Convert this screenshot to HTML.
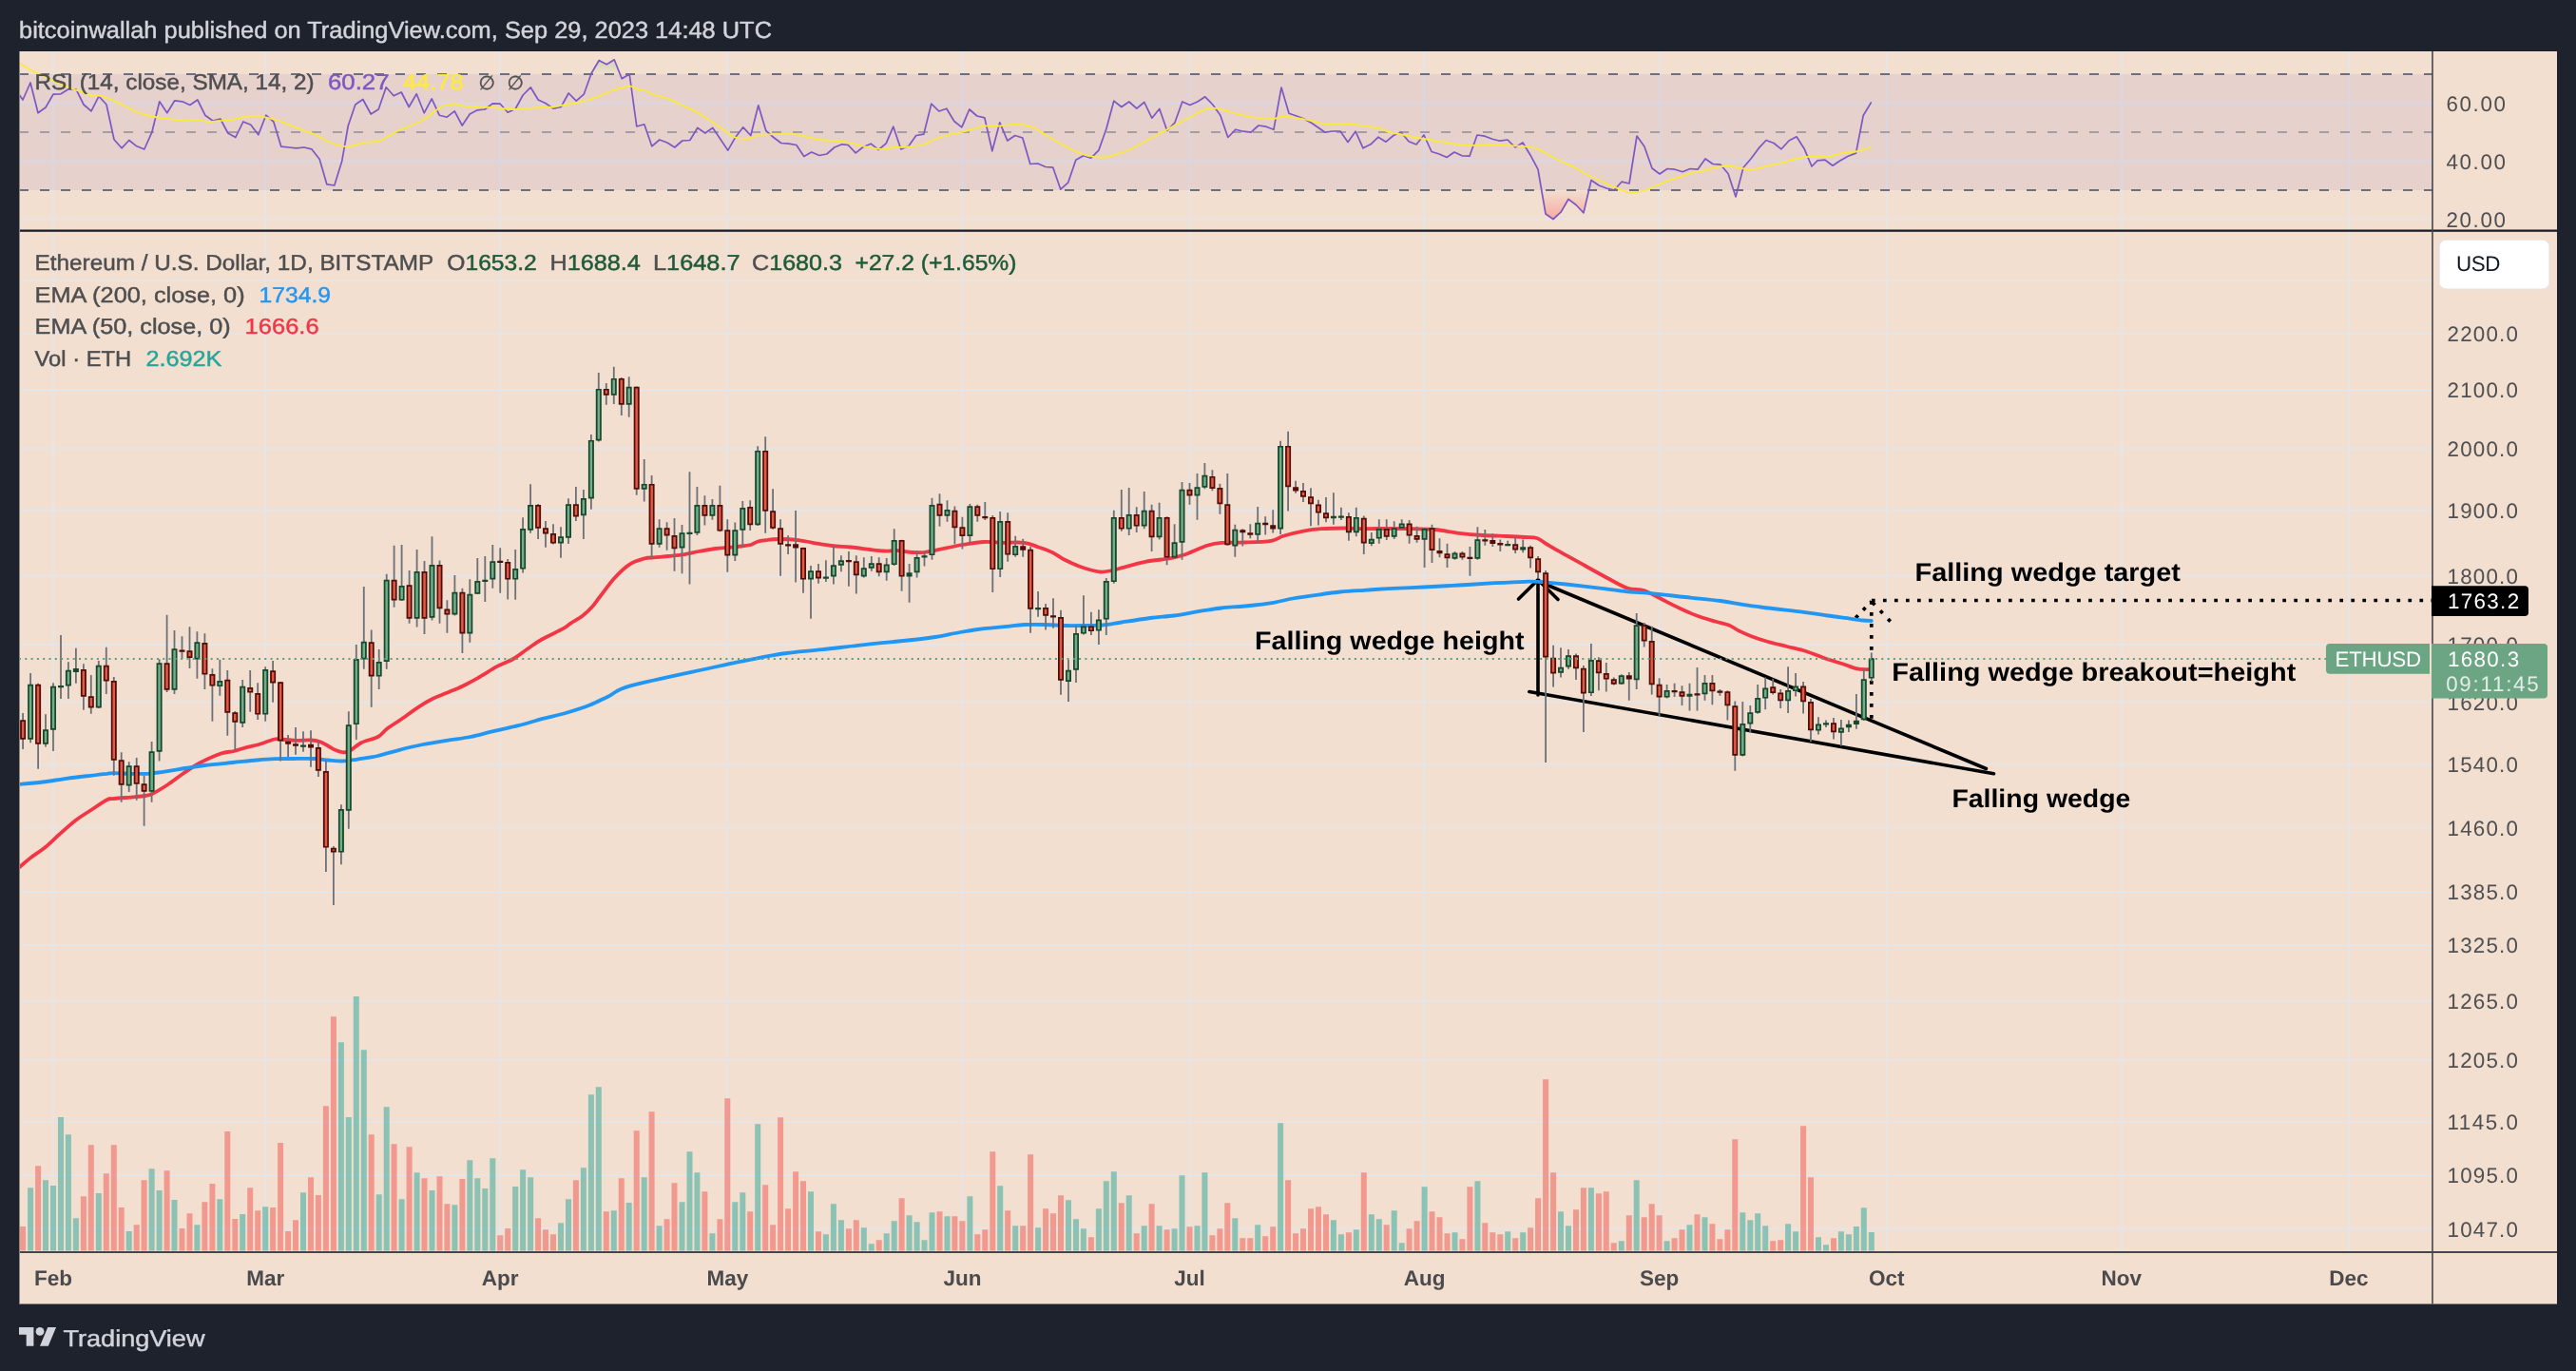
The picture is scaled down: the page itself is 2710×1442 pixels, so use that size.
<!DOCTYPE html><html><head><meta charset="utf-8"><title>ETHUSD chart</title><style>html,body{margin:0;padding:0;background:#1e222d}svg{display:block;will-change:transform}text{text-rendering:geometricPrecision}</style></head><body><svg width="2710" height="1442" viewBox="0 0 2710 1442" font-family="'Liberation Sans',sans-serif"><defs><clipPath id="cpR"><rect x="20" y="54" width="2539" height="188"/></clipPath><clipPath id="cpOB"><rect x="20" y="54" width="2539" height="24"/></clipPath><clipPath id="cpOS"><rect x="20" y="200" width="2539" height="42"/></clipPath><clipPath id="cpM"><rect x="20" y="244" width="2539" height="1072"/></clipPath><linearGradient id="gOS" x1="0" y1="200" x2="0" y2="234" gradientUnits="userSpaceOnUse"><stop offset="0" stop-color="#ff5252" stop-opacity="0"/><stop offset="1" stop-color="#ff5252" stop-opacity="0.42"/></linearGradient><linearGradient id="gOB" x1="0" y1="78" x2="0" y2="54" gradientUnits="userSpaceOnUse"><stop offset="0" stop-color="#4caf50" stop-opacity="0"/><stop offset="1" stop-color="#4caf50" stop-opacity="0.35"/></linearGradient></defs><rect x="0" y="0" width="2710" height="1442" fill="#1e222d"/><rect x="20" y="54" width="2670" height="1317.5" fill="#f2dfcf"/><path d="M56,54V1317M279.2,54V1317M526.2,54V1317M765.3,54V1317M1012.4,54V1317M1251.5,54V1317M1498.6,54V1317M1745.6,54V1317M1984.7,54V1317M2231.8,54V1317M2470.9,54V1317M20,108.8H2559M20,169.5H2559M20,230.5H2559M20,295H2559M20,351H2559M20,410H2559M20,472H2559M20,536.8H2559M20,605.6H2559M20,678H2559M20,738.8H2559M20,803.8H2559M20,870.8H2559M20,938H2559M20,994H2559M20,1053H2559M20,1115H2559M20,1180H2559M20,1236H2559M20,1292.6H2559" stroke="#e5e5e8" stroke-width="2" fill="none"/><rect x="20" y="78" width="2539" height="122" fill="#7e57c2" fill-opacity="0.1"/><path d="M20,78H2559M20,200H2559" stroke="#6b6f7e" stroke-width="2" stroke-dasharray="10 12" fill="none"/><path d="M20,139H2559" stroke="#787b86" stroke-opacity="0.6" stroke-width="2" stroke-dasharray="10 12" fill="none"/><polygon points="20,99.3 24,105 32,87 40,118.8 48,113 56,99.2 64,98.8 72,93.8 80,93.8 88,110 96,116.8 104,101.2 112,110 120,146.8 128,155.8 135.8,147.5 143.8,153.8 151.8,157 159.8,139.2 167.8,106.8 175.8,118.8 183.8,105.8 191.8,106.8 199.8,110.5 207.8,105 215.8,121.2 223.8,127 231.8,125 239.8,140 247.8,144.5 255.8,128 263.8,131.2 271.8,141.8 279.8,121.2 287.8,128 295.8,154.2 303.8,155 311.8,155.8 319.8,155 327.8,156.8 336.2,167.5 343.8,193.8 351.8,195 359.8,169.2 366.2,132.5 373.8,110 381.8,104.5 390.2,120 398.2,115 406.2,91.8 414.2,100.8 422.2,97 430.2,112.5 438.2,98.8 446.2,118.8 454.2,103.8 462.2,121.2 470.2,123.2 478.2,116.8 486.2,132 494.2,120 502.2,115.8 510.2,115 518.2,108.8 526.2,109.2 534.2,118.2 542.2,114.5 550.2,100 558.2,91.8 566.2,105 574.2,108.8 582.2,114.2 590.2,112.5 598.2,98 606.2,106.2 614.2,99.2 622.2,77 630.2,63.5 638.2,67.8 646.2,62.8 654.2,82.8 662.2,78 669.8,133 677.8,130.8 685.8,153.8 693.8,147 701.8,150 709.8,155 717.8,148 725.8,147.5 733.8,134.5 741.8,140 749.8,134.5 757.8,146.2 765.8,158.2 773.8,144.2 781.8,133.8 789.8,142.5 797.8,110.8 805.8,137.5 813.8,144.5 821.8,150.5 829.8,151.2 837.8,152.5 845.8,164.5 853.8,160 861.8,163.5 869.8,162 877.8,155 885.8,151.8 892.2,152.5 900.2,160.8 908.2,154.5 916.2,151.2 924.2,157.5 932.2,150.8 939.8,133.2 947.8,157 955.8,153.8 963.8,142.5 971.8,141.2 979.8,109.2 987.8,117 995.8,114.2 1003.8,127.5 1011.8,133.8 1019.8,115 1027.8,122 1035.8,123.8 1043.8,158.8 1051.8,128.8 1059.8,148 1067.8,142.5 1075.8,145 1083.8,172.5 1091.8,172 1099.8,175.5 1107.8,176.2 1115.8,199.2 1123.8,191.8 1131.8,168.2 1139.8,163.8 1147.8,166.2 1155.8,158.2 1163.8,135.8 1171.8,106.2 1179.8,112.5 1187.8,107 1195.8,114.2 1203.8,107.5 1211.8,124.2 1219.8,114.5 1227.8,137.5 1235.8,129.2 1243.8,107 1251.8,110.5 1259.8,107 1267.8,101.8 1275.8,110 1283.8,121.2 1291.8,144.5 1300,136.2 1308,138.2 1316,139.2 1324,132 1332,133.2 1340,136.2 1348,92 1356,119.2 1364,122 1372,125 1380,129.5 1388,135 1394,139.2 1402,138 1410,138 1418,149.5 1426,138.2 1434,155.8 1442,151.8 1450,144.2 1458,149.2 1466,142.5 1474,139.2 1482,148.8 1490,152 1498,142 1506,159.5 1514,162 1522,165.5 1530,160 1538,163.8 1546,164.2 1554,142 1562,143.2 1570,146.2 1578,148.2 1586,147 1594,155 1602,150 1610,163.2 1618,178.2 1626,225 1634,230.5 1642,223.2 1650,209.5 1658,215.5 1666,223.8 1674,189.5 1682,195 1690,198 1698,200 1706,191.2 1714,193 1722,143 1730,154.2 1738,177 1746,183 1754,177.5 1762,178.2 1770,180.8 1778,177.5 1786,178.2 1794,167 1802,172.5 1810,173.2 1818,182.5 1826,207 1834,176.2 1842,167 1850,156.2 1858,147.5 1866,150.5 1874,156.8 1882,148 1890,143.8 1898,156.2 1906,175 1912,168.8 1920,168.2 1928,174.2 1935.4,169.2 1944.2,164.3 1952.5,161.1 1960.2,121.5 1968.7,107.4 1968.7,78 20,78" fill="url(#gOB)" clip-path="url(#cpOB)"/><polygon points="20,99.3 24,105 32,87 40,118.8 48,113 56,99.2 64,98.8 72,93.8 80,93.8 88,110 96,116.8 104,101.2 112,110 120,146.8 128,155.8 135.8,147.5 143.8,153.8 151.8,157 159.8,139.2 167.8,106.8 175.8,118.8 183.8,105.8 191.8,106.8 199.8,110.5 207.8,105 215.8,121.2 223.8,127 231.8,125 239.8,140 247.8,144.5 255.8,128 263.8,131.2 271.8,141.8 279.8,121.2 287.8,128 295.8,154.2 303.8,155 311.8,155.8 319.8,155 327.8,156.8 336.2,167.5 343.8,193.8 351.8,195 359.8,169.2 366.2,132.5 373.8,110 381.8,104.5 390.2,120 398.2,115 406.2,91.8 414.2,100.8 422.2,97 430.2,112.5 438.2,98.8 446.2,118.8 454.2,103.8 462.2,121.2 470.2,123.2 478.2,116.8 486.2,132 494.2,120 502.2,115.8 510.2,115 518.2,108.8 526.2,109.2 534.2,118.2 542.2,114.5 550.2,100 558.2,91.8 566.2,105 574.2,108.8 582.2,114.2 590.2,112.5 598.2,98 606.2,106.2 614.2,99.2 622.2,77 630.2,63.5 638.2,67.8 646.2,62.8 654.2,82.8 662.2,78 669.8,133 677.8,130.8 685.8,153.8 693.8,147 701.8,150 709.8,155 717.8,148 725.8,147.5 733.8,134.5 741.8,140 749.8,134.5 757.8,146.2 765.8,158.2 773.8,144.2 781.8,133.8 789.8,142.5 797.8,110.8 805.8,137.5 813.8,144.5 821.8,150.5 829.8,151.2 837.8,152.5 845.8,164.5 853.8,160 861.8,163.5 869.8,162 877.8,155 885.8,151.8 892.2,152.5 900.2,160.8 908.2,154.5 916.2,151.2 924.2,157.5 932.2,150.8 939.8,133.2 947.8,157 955.8,153.8 963.8,142.5 971.8,141.2 979.8,109.2 987.8,117 995.8,114.2 1003.8,127.5 1011.8,133.8 1019.8,115 1027.8,122 1035.8,123.8 1043.8,158.8 1051.8,128.8 1059.8,148 1067.8,142.5 1075.8,145 1083.8,172.5 1091.8,172 1099.8,175.5 1107.8,176.2 1115.8,199.2 1123.8,191.8 1131.8,168.2 1139.8,163.8 1147.8,166.2 1155.8,158.2 1163.8,135.8 1171.8,106.2 1179.8,112.5 1187.8,107 1195.8,114.2 1203.8,107.5 1211.8,124.2 1219.8,114.5 1227.8,137.5 1235.8,129.2 1243.8,107 1251.8,110.5 1259.8,107 1267.8,101.8 1275.8,110 1283.8,121.2 1291.8,144.5 1300,136.2 1308,138.2 1316,139.2 1324,132 1332,133.2 1340,136.2 1348,92 1356,119.2 1364,122 1372,125 1380,129.5 1388,135 1394,139.2 1402,138 1410,138 1418,149.5 1426,138.2 1434,155.8 1442,151.8 1450,144.2 1458,149.2 1466,142.5 1474,139.2 1482,148.8 1490,152 1498,142 1506,159.5 1514,162 1522,165.5 1530,160 1538,163.8 1546,164.2 1554,142 1562,143.2 1570,146.2 1578,148.2 1586,147 1594,155 1602,150 1610,163.2 1618,178.2 1626,225 1634,230.5 1642,223.2 1650,209.5 1658,215.5 1666,223.8 1674,189.5 1682,195 1690,198 1698,200 1706,191.2 1714,193 1722,143 1730,154.2 1738,177 1746,183 1754,177.5 1762,178.2 1770,180.8 1778,177.5 1786,178.2 1794,167 1802,172.5 1810,173.2 1818,182.5 1826,207 1834,176.2 1842,167 1850,156.2 1858,147.5 1866,150.5 1874,156.8 1882,148 1890,143.8 1898,156.2 1906,175 1912,168.8 1920,168.2 1928,174.2 1935.4,169.2 1944.2,164.3 1952.5,161.1 1960.2,121.5 1968.7,107.4 1968.7,200 20,200" fill="url(#gOS)" clip-path="url(#cpOS)"/><polyline points="20,99.3 24,105 32,87 40,118.8 48,113 56,99.2 64,98.8 72,93.8 80,93.8 88,110 96,116.8 104,101.2 112,110 120,146.8 128,155.8 135.8,147.5 143.8,153.8 151.8,157 159.8,139.2 167.8,106.8 175.8,118.8 183.8,105.8 191.8,106.8 199.8,110.5 207.8,105 215.8,121.2 223.8,127 231.8,125 239.8,140 247.8,144.5 255.8,128 263.8,131.2 271.8,141.8 279.8,121.2 287.8,128 295.8,154.2 303.8,155 311.8,155.8 319.8,155 327.8,156.8 336.2,167.5 343.8,193.8 351.8,195 359.8,169.2 366.2,132.5 373.8,110 381.8,104.5 390.2,120 398.2,115 406.2,91.8 414.2,100.8 422.2,97 430.2,112.5 438.2,98.8 446.2,118.8 454.2,103.8 462.2,121.2 470.2,123.2 478.2,116.8 486.2,132 494.2,120 502.2,115.8 510.2,115 518.2,108.8 526.2,109.2 534.2,118.2 542.2,114.5 550.2,100 558.2,91.8 566.2,105 574.2,108.8 582.2,114.2 590.2,112.5 598.2,98 606.2,106.2 614.2,99.2 622.2,77 630.2,63.5 638.2,67.8 646.2,62.8 654.2,82.8 662.2,78 669.8,133 677.8,130.8 685.8,153.8 693.8,147 701.8,150 709.8,155 717.8,148 725.8,147.5 733.8,134.5 741.8,140 749.8,134.5 757.8,146.2 765.8,158.2 773.8,144.2 781.8,133.8 789.8,142.5 797.8,110.8 805.8,137.5 813.8,144.5 821.8,150.5 829.8,151.2 837.8,152.5 845.8,164.5 853.8,160 861.8,163.5 869.8,162 877.8,155 885.8,151.8 892.2,152.5 900.2,160.8 908.2,154.5 916.2,151.2 924.2,157.5 932.2,150.8 939.8,133.2 947.8,157 955.8,153.8 963.8,142.5 971.8,141.2 979.8,109.2 987.8,117 995.8,114.2 1003.8,127.5 1011.8,133.8 1019.8,115 1027.8,122 1035.8,123.8 1043.8,158.8 1051.8,128.8 1059.8,148 1067.8,142.5 1075.8,145 1083.8,172.5 1091.8,172 1099.8,175.5 1107.8,176.2 1115.8,199.2 1123.8,191.8 1131.8,168.2 1139.8,163.8 1147.8,166.2 1155.8,158.2 1163.8,135.8 1171.8,106.2 1179.8,112.5 1187.8,107 1195.8,114.2 1203.8,107.5 1211.8,124.2 1219.8,114.5 1227.8,137.5 1235.8,129.2 1243.8,107 1251.8,110.5 1259.8,107 1267.8,101.8 1275.8,110 1283.8,121.2 1291.8,144.5 1300,136.2 1308,138.2 1316,139.2 1324,132 1332,133.2 1340,136.2 1348,92 1356,119.2 1364,122 1372,125 1380,129.5 1388,135 1394,139.2 1402,138 1410,138 1418,149.5 1426,138.2 1434,155.8 1442,151.8 1450,144.2 1458,149.2 1466,142.5 1474,139.2 1482,148.8 1490,152 1498,142 1506,159.5 1514,162 1522,165.5 1530,160 1538,163.8 1546,164.2 1554,142 1562,143.2 1570,146.2 1578,148.2 1586,147 1594,155 1602,150 1610,163.2 1618,178.2 1626,225 1634,230.5 1642,223.2 1650,209.5 1658,215.5 1666,223.8 1674,189.5 1682,195 1690,198 1698,200 1706,191.2 1714,193 1722,143 1730,154.2 1738,177 1746,183 1754,177.5 1762,178.2 1770,180.8 1778,177.5 1786,178.2 1794,167 1802,172.5 1810,173.2 1818,182.5 1826,207 1834,176.2 1842,167 1850,156.2 1858,147.5 1866,150.5 1874,156.8 1882,148 1890,143.8 1898,156.2 1906,175 1912,168.8 1920,168.2 1928,174.2 1935.4,169.2 1944.2,164.3 1952.5,161.1 1960.2,121.5 1968.7,107.4" fill="none" stroke="#7e57c2" stroke-width="1.7" stroke-linejoin="round" clip-path="url(#cpR)"/><path d="M20,65.8C22.1,67.1 28.3,71.5 32.5,73.8C36.7,76 40.8,77.5 45,79.5C49.2,81.5 53.3,83.8 57.5,85.8C61.7,87.7 65.8,89.6 70,91.2C74.2,92.9 78.3,94 82.5,95.5C86.7,97 90.8,99 95,100C99.2,101 103.3,100.2 107.5,101.2C111.7,102.3 115.8,104.5 120,106.2C124.2,108 128.3,110 132.5,112C136.7,114 140.8,116.6 145,118.2C149.2,119.9 153.3,121 157.5,122C161.7,123 165.8,123.6 170,124.2C174.2,124.9 178.3,125.3 182.5,125.8C186.7,126.2 190.8,126.8 195,126.8C199.2,126.8 203.3,125.5 207.5,125.8C211.7,126 215.8,128.1 220,128.2C224.2,128.4 228.3,127.2 232.5,126.8C236.7,126.3 240.8,126.4 245,125.8C249.2,125.1 253.3,123.7 257.5,123C261.7,122.3 265.8,121.5 270,121.8C274.2,122 278.3,123.3 282.5,124.2C286.7,125.2 290.8,126.1 295,127.5C299.2,128.9 303.3,130.8 307.5,132.5C311.7,134.2 315.8,135.9 320,137.5C324.2,139.1 328.3,140.1 332.5,142C336.7,143.9 341.2,147 345,148.8C348.8,150.5 351.9,151.6 355,152.5C358.1,153.4 360.8,154.1 363.8,154.2C366.7,154.4 369.4,154 372.5,153.2C375.6,152.5 379.2,150.6 382.5,150C385.8,149.4 389.6,149.8 392.5,149.5C395.4,149.2 397.1,149.2 400,148C402.9,146.8 406.7,144.3 410,142.5C413.3,140.7 416.2,138.8 420,137C423.8,135.2 428.3,133.8 432.5,132C436.7,130.2 440.8,128.8 445,126.2C449.2,123.8 453.8,119.5 457.5,117C461.2,114.5 464.2,112.5 467.5,111.2C470.8,110 473.8,109.4 477.5,109.5C481.2,109.6 485,111.2 490,111.8C495,112.2 502.5,112.2 507.5,112.5C512.5,112.8 515.8,112.9 520,113.2C524.2,113.6 528.3,114.2 532.5,114.5C536.7,114.8 540.8,115.1 545,115C549.2,114.9 553.3,114.1 557.5,113.8C561.7,113.4 565.8,113.2 570,113C574.2,112.8 578.3,113 582.5,112.5C586.7,112 590.8,110.8 595,110C599.2,109.2 603.3,108.8 607.5,108C611.7,107.2 615.8,106.3 620,105C624.2,103.7 628.3,101.7 632.5,100C636.7,98.3 641.2,96.3 645,95C648.8,93.7 651.8,92.7 655,92C658.2,91.3 661.3,90.5 664,90.8C666.7,91 668.6,93 671,93.8C673.4,94.5 676,94.2 678.5,95C681,95.8 682.2,97.4 686,98.8C689.8,100.1 696,101.4 701,103.2C706,105.1 711,107.8 716,110C721,112.2 726,114 731,116.8C736,119.5 741,123 746,126.2C751,129.5 756.4,133.2 761,136.2C765.6,139.3 768.7,143 773.5,144.5C778.3,146 785.6,145.9 789.8,145.5C793.9,145.1 794.1,142.7 798.5,142C802.9,141.3 809.8,141.4 816,141.2C822.2,141.1 830.2,140.7 836,141.2C841.8,141.8 846,143.5 851,144.5C856,145.5 861,146.9 866,147.5C871,148.1 876,147.8 881,148.2C886,148.8 891,149.5 896,150.5C901,151.5 906,153.5 911,154.5C916,155.5 921,156.7 926,156.8C931,156.8 936,155.4 941,155C946,154.6 951,155 956,154.5C961,154 966.8,153.2 971,152C975.2,150.8 976.8,149.1 981,147.5C985.2,145.9 991,143.9 996,142.5C1001,141.1 1006,140.5 1011,139.2C1016,138 1021.8,136.1 1026,135C1030.2,133.9 1031.8,132.9 1036,132.5C1040.2,132.1 1046,132.8 1051,132.5C1056,132.2 1061.8,131 1066,130.8C1070.2,130.5 1072.7,130.8 1076,131.2C1079.3,131.8 1081.8,131.9 1086,133.8C1090.2,135.6 1096,139.6 1101,142.5C1106,145.4 1111,148.5 1116,151.2C1121,154 1126,156.6 1131,158.8C1136,160.9 1140.6,163.1 1146,164.2C1151.4,165.4 1158.9,165.8 1163.5,165.5C1168.1,165.2 1169.3,163.8 1173.5,162.5C1177.7,161.2 1183.1,159.9 1188.5,157.5C1193.9,155.1 1200.6,150.9 1206,148C1211.4,145.1 1216,142.7 1221,140C1226,137.3 1231,134.5 1236,131.8C1241,129 1246,126.4 1251,123.8C1256,121.1 1261.4,117.4 1266,115.8C1270.6,114.1 1274.3,113.6 1278.5,113.8C1282.7,113.9 1287.4,115.8 1291,116.8C1294.6,117.7 1297.8,118.6 1300,119.2C1302.2,119.9 1301.7,119.8 1304.5,120.5C1307.3,121.2 1312.4,122.5 1317,123.2C1321.6,124 1327.8,125 1332,125.2C1336.2,125.5 1339.1,125 1342,124.5C1344.9,124 1345.8,122.5 1349.5,122.5C1353.2,122.5 1359.5,123.5 1364.5,124.2C1369.5,125 1374.5,126 1379.5,127C1384.5,128 1389.5,130 1394.5,130.5C1399.5,131 1404.5,130 1409.5,130C1414.5,130 1419.5,130.2 1424.5,130.8C1429.5,131.3 1435.3,132.7 1439.5,133.2C1443.7,133.8 1445.8,133.2 1449.5,134.2C1453.2,135.2 1457.4,138 1462,139.2C1466.6,140.5 1472,141 1477,142C1482,143 1486.6,144 1492,145C1497.4,146 1504.1,147.1 1509.5,148C1514.9,148.9 1519.1,149.7 1524.5,150.5C1529.9,151.3 1536.6,152.6 1542,153C1547.4,153.4 1552,152.8 1557,152.8C1562,152.7 1567,152.4 1572,152.5C1577,152.6 1582,153 1587,153.2C1592,153.5 1597,153.2 1602,153.8C1607,154.2 1612.4,154.7 1617,156.2C1621.6,157.8 1625.3,160.8 1629.5,163C1633.7,165.2 1637.4,167.3 1642,169.5C1646.6,171.7 1652.8,174.1 1657,176.2C1661.2,178.4 1662.8,180.3 1667,182.5C1671.2,184.7 1677,187 1682,189.2C1687,191.5 1692.8,194.5 1697,196.2C1701.2,198 1704.1,198.9 1707,200C1709.9,201.1 1710.8,202.7 1714.5,202.8C1718.2,202.8 1724.9,201.7 1729.5,200.5C1734.1,199.3 1737.8,197.2 1742,195.5C1746.2,193.8 1750.3,191.5 1754.5,190C1758.7,188.5 1762.8,187.6 1767,186.2C1771.2,184.9 1775.3,182.9 1779.5,181.8C1783.7,180.6 1787.8,180.4 1792,179.5C1796.2,178.6 1800.3,177.1 1804.5,176.2C1808.7,175.4 1813.2,174.6 1817,174.5C1820.8,174.4 1823.7,175.1 1827,175.8C1830.3,176.4 1834.1,177.8 1837,178.2C1839.9,178.7 1840.8,178.9 1844.5,178.2C1848.2,177.6 1854.5,175.7 1859.5,174.5C1864.5,173.3 1869.5,172.5 1874.5,171.2C1879.5,170 1885.3,168 1889.5,167C1893.7,166 1894.9,165.4 1899.5,165C1904.1,164.6 1912.4,164.7 1917,164.5C1921.6,164.3 1923.5,164.3 1927,163.8C1930.5,163.2 1933.6,161.8 1937.8,161.1C1942,160.4 1948.5,160.1 1952.2,159.5C1955.9,158.9 1957.5,158.4 1960.2,157.6C1963,156.8 1967.3,155.2 1968.7,154.7" fill="none" stroke="#fbe93c" stroke-width="1.8" clip-path="url(#cpR)"/><path d="M29.1,1249.2h6V1315.5h-6zM45,1241.2h6V1315.5h-6zM53,1247h6V1315.5h-6zM61,1175h6V1315.5h-6zM68.9,1193.2h6V1315.5h-6zM76.9,1281.2h6V1315.5h-6zM100.8,1255h6V1315.5h-6zM132.7,1295h6V1315.5h-6zM156.6,1229.2h6V1315.5h-6zM164.6,1252h6V1315.5h-6zM180.5,1262h6V1315.5h-6zM204.4,1288.2h6V1315.5h-6zM228.3,1261.2h6V1315.5h-6zM252.2,1277h6V1315.5h-6zM276.2,1269.2h6V1315.5h-6zM316,1254.2h6V1315.5h-6zM355.9,1096.2h6V1315.5h-6zM363.8,1175h6V1315.5h-6zM371.8,1048h6V1315.5h-6zM379.8,1104.2h6V1315.5h-6zM395.7,1256.2h6V1315.5h-6zM403.7,1164.2h6V1315.5h-6zM419.6,1261.2h6V1315.5h-6zM435.6,1233.2h6V1315.5h-6zM451.5,1252h6V1315.5h-6zM475.4,1267.2h6V1315.5h-6zM491.3,1220.2h6V1315.5h-6zM499.3,1239.2h6V1315.5h-6zM507.3,1250h6V1315.5h-6zM515.3,1218.2h6V1315.5h-6zM539.2,1248h6V1315.5h-6zM547.1,1230.2h6V1315.5h-6zM555.1,1238.2h6V1315.5h-6zM587,1286.2h6V1315.5h-6zM595,1261.2h6V1315.5h-6zM610.9,1228.2h6V1315.5h-6zM618.9,1151.2h6V1315.5h-6zM626.8,1143.2h6V1315.5h-6zM642.8,1273.2h6V1315.5h-6zM658.7,1265h6V1315.5h-6zM674.7,1238.2h6V1315.5h-6zM690.6,1289.2h6V1315.5h-6zM714.5,1264.2h6V1315.5h-6zM722.5,1211.2h6V1315.5h-6zM730.4,1233.2h6V1315.5h-6zM746.4,1297.2h6V1315.5h-6zM770.3,1264.2h6V1315.5h-6zM778.3,1254.2h6V1315.5h-6zM794.2,1182.2h6V1315.5h-6zM850,1253.2h6V1315.5h-6zM865.9,1298.2h6V1315.5h-6zM873.9,1266.2h6V1315.5h-6zM881.9,1283.2h6V1315.5h-6zM905.8,1291.2h6V1315.5h-6zM913.8,1308.2h6V1315.5h-6zM929.7,1297.2h6V1315.5h-6zM937.7,1284.2h6V1315.5h-6zM953.6,1278.2h6V1315.5h-6zM961.6,1285.2h6V1315.5h-6zM969.5,1304.2h6V1315.5h-6zM977.5,1275.2h6V1315.5h-6zM993.5,1279.2h6V1315.5h-6zM1017.4,1258.2h6V1315.5h-6zM1049.2,1247.2h6V1315.5h-6zM1065.2,1289.2h6V1315.5h-6zM1089.1,1291.2h6V1315.5h-6zM1121,1262.2h6V1315.5h-6zM1129,1282.2h6V1315.5h-6zM1136.9,1292.2h6V1315.5h-6zM1152.9,1271.2h6V1315.5h-6zM1160.8,1242.2h6V1315.5h-6zM1168.8,1232.2h6V1315.5h-6zM1184.7,1257.2h6V1315.5h-6zM1200.7,1289.2h6V1315.5h-6zM1216.6,1289.2h6V1315.5h-6zM1232.6,1292.2h6V1315.5h-6zM1240.5,1236.2h6V1315.5h-6zM1256.5,1289.2h6V1315.5h-6zM1264.4,1233.2h6V1315.5h-6zM1296.3,1281.2h6V1315.5h-6zM1320.2,1288.2h6V1315.5h-6zM1344.1,1181.2h6V1315.5h-6zM1399.9,1283.2h6V1315.5h-6zM1407.9,1298.2h6V1315.5h-6zM1423.8,1293.2h6V1315.5h-6zM1439.8,1277.2h6V1315.5h-6zM1447.8,1282.2h6V1315.5h-6zM1463.7,1273.2h6V1315.5h-6zM1471.7,1307.2h6V1315.5h-6zM1495.6,1248.2h6V1315.5h-6zM1527.5,1296.2h6V1315.5h-6zM1551.4,1242.2h6V1315.5h-6zM1583.2,1295.2h6V1315.5h-6zM1599.2,1296.2h6V1315.5h-6zM1639,1274.2h6V1315.5h-6zM1647,1289.2h6V1315.5h-6zM1670.9,1249.2h6V1315.5h-6zM1702.8,1305.2h6V1315.5h-6zM1718.7,1241.2h6V1315.5h-6zM1750.6,1305.2h6V1315.5h-6zM1774.5,1288.2h6V1315.5h-6zM1790.5,1280.2h6V1315.5h-6zM1830.3,1275.2h6V1315.5h-6zM1838.3,1283.2h6V1315.5h-6zM1846.2,1276.2h6V1315.5h-6zM1854.2,1289.2h6V1315.5h-6zM1878.1,1287.2h6V1315.5h-6zM1886.1,1295.2h6V1315.5h-6zM1910,1301.2h6V1315.5h-6zM1918,1309.2h6V1315.5h-6zM1933.9,1295.2h6V1315.5h-6zM1941.9,1298.2h6V1315.5h-6zM1949.9,1290h6V1315.5h-6zM1957.8,1270.2h6V1315.5h-6zM1965.8,1296h6V1315.5h-6z" fill="#26a69a" fill-opacity="0.5"/><path d="M21.1,1290h6V1315.5h-6zM37.1,1226.2h6V1315.5h-6zM84.9,1258.2h6V1315.5h-6zM92.8,1204.2h6V1315.5h-6zM108.8,1234.2h6V1315.5h-6zM116.8,1204.2h6V1315.5h-6zM124.7,1270h6V1315.5h-6zM140.7,1288.2h6V1315.5h-6zM148.6,1241.2h6V1315.5h-6zM172.6,1231.2h6V1315.5h-6zM188.5,1292h6V1315.5h-6zM196.5,1276.2h6V1315.5h-6zM212.4,1264.2h6V1315.5h-6zM220.4,1245h6V1315.5h-6zM236.3,1190h6V1315.5h-6zM244.3,1282h6V1315.5h-6zM260.2,1249.2h6V1315.5h-6zM268.2,1273.2h6V1315.5h-6zM284.1,1270h6V1315.5h-6zM292.1,1202h6V1315.5h-6zM300.1,1295h6V1315.5h-6zM308,1283.2h6V1315.5h-6zM324,1238.2h6V1315.5h-6zM331.9,1257h6V1315.5h-6zM339.9,1163.2h6V1315.5h-6zM347.9,1069.2h6V1315.5h-6zM387.7,1193.2h6V1315.5h-6zM411.6,1203.2h6V1315.5h-6zM427.6,1206.2h6V1315.5h-6zM443.5,1239.2h6V1315.5h-6zM459.5,1237.2h6V1315.5h-6zM467.4,1266.2h6V1315.5h-6zM483.4,1240h6V1315.5h-6zM523.2,1299.2h6V1315.5h-6zM531.2,1292h6V1315.5h-6zM563.1,1281.2h6V1315.5h-6zM571,1293.2h6V1315.5h-6zM579,1298.2h6V1315.5h-6zM602.9,1241.2h6V1315.5h-6zM634.8,1274.2h6V1315.5h-6zM650.8,1239.2h6V1315.5h-6zM666.7,1189.2h6V1315.5h-6zM682.6,1169.2h6V1315.5h-6zM698.6,1282.2h6V1315.5h-6zM706.5,1244.2h6V1315.5h-6zM738.4,1253.2h6V1315.5h-6zM754.4,1282.2h6V1315.5h-6zM762.3,1155.2h6V1315.5h-6zM786.2,1274.2h6V1315.5h-6zM802.2,1246.2h6V1315.5h-6zM810.1,1288.2h6V1315.5h-6zM818.1,1175.2h6V1315.5h-6zM826.1,1271.2h6V1315.5h-6zM834.1,1232.2h6V1315.5h-6zM842,1242.2h6V1315.5h-6zM858,1295.2h6V1315.5h-6zM889.9,1292.2h6V1315.5h-6zM897.8,1283.2h6V1315.5h-6zM921.7,1304.2h6V1315.5h-6zM945.6,1260.2h6V1315.5h-6zM985.5,1274.2h6V1315.5h-6zM1001.4,1279.2h6V1315.5h-6zM1009.4,1284.2h6V1315.5h-6zM1025.3,1298.2h6V1315.5h-6zM1033.3,1293.2h6V1315.5h-6zM1041.3,1211.2h6V1315.5h-6zM1057.2,1273.2h6V1315.5h-6zM1073.2,1289.2h6V1315.5h-6zM1081.1,1214.2h6V1315.5h-6zM1097.1,1271.2h6V1315.5h-6zM1105,1276.2h6V1315.5h-6zM1113,1257.2h6V1315.5h-6zM1144.9,1301.2h6V1315.5h-6zM1176.8,1265.2h6V1315.5h-6zM1192.7,1297.2h6V1315.5h-6zM1208.6,1266.2h6V1315.5h-6zM1224.6,1293.2h6V1315.5h-6zM1248.5,1290.2h6V1315.5h-6zM1272.4,1299.2h6V1315.5h-6zM1280.4,1292.2h6V1315.5h-6zM1288.3,1265.2h6V1315.5h-6zM1304.3,1302.2h6V1315.5h-6zM1312.3,1302.2h6V1315.5h-6zM1328.2,1300.2h6V1315.5h-6zM1336.2,1290.2h6V1315.5h-6zM1352.1,1241.2h6V1315.5h-6zM1360.1,1297.2h6V1315.5h-6zM1368,1292.2h6V1315.5h-6zM1376,1271.2h6V1315.5h-6zM1384,1269.2h6V1315.5h-6zM1392,1277.2h6V1315.5h-6zM1415.9,1296.2h6V1315.5h-6zM1431.8,1233.2h6V1315.5h-6zM1455.7,1288.2h6V1315.5h-6zM1479.6,1292.2h6V1315.5h-6zM1487.6,1284.2h6V1315.5h-6zM1503.5,1274.2h6V1315.5h-6zM1511.5,1280.2h6V1315.5h-6zM1519.5,1297.2h6V1315.5h-6zM1535.4,1303.2h6V1315.5h-6zM1543.4,1248.2h6V1315.5h-6zM1559.3,1286.2h6V1315.5h-6zM1567.3,1296.2h6V1315.5h-6zM1575.3,1298.2h6V1315.5h-6zM1591.2,1302.2h6V1315.5h-6zM1607.1,1291.2h6V1315.5h-6zM1615.1,1260.2h6V1315.5h-6zM1623.1,1135.2h6V1315.5h-6zM1631.1,1233.2h6V1315.5h-6zM1655,1272.2h6V1315.5h-6zM1662.9,1249.2h6V1315.5h-6zM1678.9,1255.2h6V1315.5h-6zM1686.8,1253.2h6V1315.5h-6zM1694.8,1307.2h6V1315.5h-6zM1710.8,1278.2h6V1315.5h-6zM1726.7,1280.2h6V1315.5h-6zM1734.7,1266.2h6V1315.5h-6zM1742.6,1278.2h6V1315.5h-6zM1758.6,1302.2h6V1315.5h-6zM1766.5,1293.2h6V1315.5h-6zM1782.5,1277.2h6V1315.5h-6zM1798.4,1287.2h6V1315.5h-6zM1806.4,1303.2h6V1315.5h-6zM1814.4,1293.2h6V1315.5h-6zM1822.3,1198.2h6V1315.5h-6zM1862.2,1305.2h6V1315.5h-6zM1870.2,1304.2h6V1315.5h-6zM1894.1,1184.2h6V1315.5h-6zM1902,1238.2h6V1315.5h-6zM1926,1302.2h6V1315.5h-6z" fill="#ef5350" fill-opacity="0.5"/><g clip-path="url(#cpM)"><g stroke="#000" stroke-width="3.6" stroke-linecap="round" fill="none"><path d="M1618,610.5V731"/><path d="M1597.5,630L1618,609.8L1639,630.5"/><path d="M1621,612.5L2089.4,808.5"/><path d="M1608.8,727.5L2097.5,813.8"/></g><g stroke="#000" stroke-width="3.7" fill="none"><path d="M1968.95,631.5H2558" stroke-dasharray="3.7 8.31"/><path d="M1968.8,631.95V756" stroke-dasharray="3.7 8.3"/><path d="M1968.8,632.5L1952.1,649.9" stroke-dasharray="3.7 7.6" stroke-dashoffset="-9.05"/><path d="M1968.8,632.5L1988.8,653.7" stroke-dasharray="3.7 8.2" stroke-dashoffset="-13.45"/></g><path d="M20,912.5C22.1,910.8 27.9,905.5 32.5,902C37.1,898.5 42.5,895.3 47.5,891.2C52.5,887.2 57.1,882.3 62.5,877.5C67.9,872.7 74.6,866.7 80,862.5C85.4,858.3 89.6,856 95,852.5C100.4,849 108.3,843.3 112.5,841.2C116.7,839.2 116.2,840.4 120,840C123.8,839.6 129.6,839.2 135,838.8C140.4,838.2 148.3,837.6 152.5,837C156.7,836.4 156,836.9 160,835C164,833.1 170.8,829 176.2,825.5C181.7,822 186.9,817.6 192.5,813.8C198.1,809.9 203.3,806 210,802.5C216.7,799 226.5,794.6 232.5,792.5C238.5,790.4 241.7,791.1 246.2,790C250.8,788.9 255.6,786.9 260,785.8C264.4,784.6 267.7,784.4 272.5,783C277.3,781.6 285,778.4 288.8,777.5C292.5,776.6 291.3,777.3 295,777.5C298.7,777.7 305.3,778.6 310.8,778.8C316.2,778.9 323.2,778.3 327.5,778.5C331.8,778.7 333.3,779 336.2,780C339.2,781 342.3,783 345,784.5C347.7,786 350,787.6 352.5,788.8C355,789.9 357.5,791 360,791.2C362.5,791.5 364.2,791.7 367.5,790C370.8,788.3 375,783.8 380,781.2C385,778.8 392.9,777.5 397.5,775C402.1,772.5 403.3,769.4 407.5,766.2C411.7,763.1 417.1,760 422.5,756.2C427.9,752.5 434.6,747.3 440,743.8C445.4,740.2 450,737.5 455,735C460,732.5 464.6,731 470,728.8C475.4,726.5 481.9,724 487.5,721.2C493.1,718.5 497.9,715.8 503.8,712.5C509.6,709.2 516.5,704.5 522.5,701.2C528.5,698 534.6,696.1 540,693C545.4,689.9 550,685.9 555,682.5C560,679.1 563.8,676 570,672.5C576.2,669 587.5,664 592.5,661.2C597.5,658.5 596.7,658 600,655.8C603.3,653.5 608.8,650.8 612.5,648C616.2,645.2 619.4,642.2 622.5,638.8C625.6,635.3 627.3,632.6 631.2,627.5C635.2,622.4 641.1,613.9 646.2,608.2C651.4,602.6 656.8,597.2 662,593.8C667.2,590.3 672.8,588.8 677.5,587.5C682.2,586.2 685.8,586.7 690,586.2C694.2,585.8 697.5,585.5 702.5,585C707.5,584.5 714.6,584.1 720,583.2C725.4,582.4 729.6,581 735,580C740.4,579 747.1,577.7 752.5,577C757.9,576.3 762.9,576.2 767.5,575.8C772.1,575.3 776.2,575 780,574.5C783.8,574 787.1,573.8 790,573C792.9,572.2 794.6,570.4 797.5,569.5C800.4,568.6 803.8,568.2 807.5,567.8C811.2,567.3 815,567 820,567C825,567 831.7,567.1 837.5,567.8C843.3,568.4 848.8,569.7 855,570.8C861.2,571.8 868.3,573.2 875,574C881.7,574.8 888.3,574.8 895,575.5C901.7,576.2 909.2,577.3 915,578C920.8,578.7 925,579.3 930,579.5C935,579.7 940,579 945,579.2C950,579.5 955.4,580.8 960,581C964.6,581.2 968.5,581.1 972.5,580.8C976.5,580.4 980.7,579.4 984,578.8C987.3,578.1 987.8,578 992.5,577C997.2,576 1005.4,574.2 1012.5,573C1019.6,571.8 1027.9,570.4 1035,570C1042.1,569.6 1047.9,570.6 1055,570.8C1062.1,570.9 1071.2,570 1077.5,570.8C1083.8,571.5 1087.5,573.8 1092.5,575.5C1097.5,577.2 1102.9,579 1107.5,581.2C1112.1,583.5 1115.4,586.4 1120,588.8C1124.6,591.1 1130.4,593.7 1135,595.5C1139.6,597.3 1143.8,598.5 1147.5,599.5C1151.2,600.5 1154.2,601.3 1157.5,601.5C1160.8,601.7 1164.2,601.1 1167.5,600.5C1170.8,599.9 1171.2,599.6 1177.5,598C1183.8,596.4 1196.2,592.5 1205,590.8C1213.8,589 1223.3,588.7 1230,587.5C1236.7,586.3 1238.3,586 1245,583.8C1251.7,581.5 1263.3,575.9 1270,573.8C1276.7,571.6 1278.3,571.3 1285,570.8C1291.7,570.2 1301.2,570.8 1310,570.5C1318.8,570.2 1330.8,569.9 1337.5,568.8C1344.2,567.6 1344.6,565.4 1350,563.8C1355.4,562.1 1363.3,560 1370,558.8C1376.7,557.5 1382.5,556.8 1390,556.2C1397.5,555.7 1407.5,555.5 1415,555.5C1422.5,555.5 1427.5,556.2 1435,556.2C1442.5,556.3 1451.7,555.8 1460,555.8C1468.3,555.8 1476.7,556 1485,556.2C1493.3,556.5 1501.7,556.2 1510,557C1518.3,557.8 1526.7,559.8 1535,560.8C1543.3,561.8 1551.7,562.5 1560,563C1568.3,563.5 1577.7,563.7 1585,564C1592.3,564.3 1598.6,564.6 1604,565C1609.4,565.4 1613.6,565 1617.5,566.2C1621.4,567.5 1623.3,570 1627.5,572.5C1631.7,575 1635.8,577.5 1642.5,581.2C1649.2,585 1659.2,590.4 1667.5,595C1675.8,599.6 1685,604.8 1692.5,608.8C1700,612.7 1706.2,616.7 1712.5,618.8C1718.8,620.8 1723.8,619.2 1730,621.2C1736.2,623.3 1743.8,628.1 1750,631.2C1756.2,634.4 1761.7,637.3 1767.5,640C1773.3,642.7 1778.8,645.2 1785,647.5C1791.2,649.8 1799.4,652.1 1805,653.8C1810.6,655.4 1814.6,655.8 1818.8,657.5C1822.9,659.2 1826,661.8 1830,663.8C1834,665.7 1837.5,667.4 1842.5,669.2C1847.5,671.1 1853.8,673.2 1860,675C1866.2,676.8 1873.3,678.3 1880,680C1886.7,681.7 1893.3,682.9 1900,685C1906.7,687.1 1913.3,690.2 1920,692.5C1926.7,694.8 1934.6,697 1940,698.8C1945.4,700.5 1948.8,702.3 1952.5,703.2C1956.2,704.2 1959.8,704.2 1962.5,704.2C1965.2,704.3 1967.7,703.8 1968.8,703.8" fill="none" stroke="#f23645" stroke-width="3.8" stroke-linecap="round"/><path d="M20,825C24.2,824.6 36.7,823.5 45,822.5C53.3,821.5 61.7,819.9 70,818.8C78.3,817.6 87.9,816.6 95,815.8C102.1,814.9 108.3,814.2 112.5,813.8C116.7,813.3 115.8,813.2 120,813.2C124.2,813.2 131.7,813.7 137.5,813.8C143.3,813.8 148.5,814.2 155,813.8C161.5,813.3 169.6,812.2 176.2,811.2C182.9,810.3 188.5,809 195,808C201.5,807 206.7,806 215,805C223.3,804 235.8,802.9 245,802C254.2,801.1 262.7,800.1 270,799.5C277.3,798.9 282.5,798.5 288.8,798.2C295,798 300.6,798 307.5,798C314.4,798 323.8,797.8 330,798C336.2,798.2 340,799.1 345,799.5C350,799.9 355,800.6 360,800.5C365,800.4 368.8,799.7 375,798.8C381.2,797.8 390,796.7 397.5,795C405,793.3 412.1,790.8 420,788.8C427.9,786.8 436.7,784.7 445,783C453.3,781.3 461.7,780.1 470,778.8C478.3,777.4 486.7,776.7 495,775C503.3,773.3 511.7,770.7 520,768.8C528.3,766.8 536.7,765.3 545,763.2C553.3,761.2 561.7,758.5 570,756.2C578.3,754 586.7,752.4 595,750C603.3,747.6 612.5,744.7 620,741.8C627.5,738.8 632.7,735.9 640,732.5C647.3,729.1 645.7,726.3 664,721.2C682.3,716.2 731.1,706.2 750,702C768.9,697.8 768.8,698 777.5,696.2C786.2,694.5 794.2,692.8 802.5,691.2C810.8,689.7 817.1,688.3 827.5,687C837.9,685.7 852.5,684.6 865,683.2C877.5,681.9 890,680.1 902.5,678.8C915,677.4 929.6,676 940,675C950.4,674 957.7,673.3 965,672.5C972.3,671.7 976.5,671.2 984,670C991.5,668.8 1001.5,666.5 1010,665C1018.5,663.5 1026.7,662.3 1035,661.2C1043.3,660.2 1052.9,659.5 1060,658.8C1067.1,658 1070.8,657.3 1077.5,657C1084.2,656.7 1092.9,656.8 1100,657C1107.1,657.2 1113.3,657.8 1120,658C1126.7,658.2 1133.3,658.1 1140,658C1146.7,657.9 1153.3,658.1 1160,657.5C1166.7,656.9 1171.7,655.8 1180,654.5C1188.3,653.2 1200.8,651.2 1210,650C1219.2,648.8 1226.7,648.6 1235,647.5C1243.3,646.4 1251.7,644.6 1260,643.2C1268.3,641.9 1276.7,640.5 1285,639.5C1293.3,638.5 1300.8,638.5 1310,637.5C1319.2,636.5 1331.7,635.1 1340,633.8C1348.3,632.4 1352.5,630.8 1360,629.5C1367.5,628.2 1376.7,626.9 1385,625.8C1393.3,624.6 1401.7,623.3 1410,622.5C1418.3,621.7 1426.7,621.3 1435,620.8C1443.3,620.2 1449.6,619.8 1460,619.2C1470.4,618.7 1485,618.1 1497.5,617.5C1510,616.9 1522.5,616.2 1535,615.5C1547.5,614.8 1561,613.9 1572.5,613.2C1584,612.6 1596.5,612 1604,611.8C1611.5,611.5 1610.2,611.3 1617.5,611.8C1624.8,612.2 1636.2,613.3 1647.5,614.5C1658.8,615.7 1673.8,617.4 1685,618.8C1696.2,620.1 1706.7,621.7 1715,622.5C1723.3,623.3 1725.4,622.8 1735,623.8C1744.6,624.7 1760,626.6 1772.5,628C1785,629.4 1799.6,630.6 1810,632C1820.4,633.4 1826.7,635 1835,636.2C1843.3,637.5 1849.6,638.2 1860,639.5C1870.4,640.8 1887.1,642.4 1897.5,643.8C1907.9,645.1 1914.2,646.3 1922.5,647.5C1930.8,648.7 1941.2,649.9 1947.5,650.8C1953.8,651.6 1956.5,652.1 1960,652.5C1963.5,652.9 1967.3,652.9 1968.8,653" fill="none" stroke="#2196f3" stroke-width="3.8" stroke-linecap="round"/><path d="M24.1,750V788M32.1,708V781.2M40.1,718.8V808.8M48,751.2V785.5M56,718.2V790M64,668V735M71.9,696.2V735M79.9,681.8V718.8M87.9,698.2V746.8M95.8,710V750.8M103.8,695V745M111.8,680.8V730M119.8,712V815.8M127.7,791.2V843.8M135.7,801.2V833M143.7,797V841.8M151.6,815.5V868.8M159.6,780V843.8M167.6,693.2V800.5M175.6,646.8V728M183.5,663V730M191.5,669.2V693M199.5,659.2V703M207.4,664.2V713.8M215.4,666.2V725M223.4,703.2V758.8M231.3,693.8V731.8M239.3,705V773.8M247.3,748V788.8M255.2,715V765M263.2,705V748.8M271.2,718.2V757M279.2,701.2V758.8M287.1,695V738.8M295.1,717V800.5M303.1,773V796.2M311,765V793.8M319,769.2V790.8M327,768.2V806.8M334.9,780V817M342.9,799.5V917M350.9,890V952M358.9,846.2V909.2M366.8,748.2V871.8M374.8,678V778M382.8,617V703.8M390.7,662.5V743.8M398.7,683V725M406.7,603.8V703.8M414.6,573.8V638.8M422.6,573V632M430.6,600V655.8M438.6,578V659.5M446.5,590V667M454.5,564.2V652.5M462.5,589.5V655.8M470.4,631.2V665.8M478.4,605V647.5M486.4,618.8V687M494.3,609.2V675.8M502.3,587V625M510.3,585V633M518.3,573V618.8M526.2,576.2V623.8M534.2,588V630.5M542.2,578V630.8M550.1,544.2V602.5M558.1,509.2V560.8M566.1,530V567M574,548V575.8M582,551.2V572.5M590,554.2V586.8M598,524.2V572M605.9,512V548M613.9,515V567M621.9,457V535.8M629.8,392V464.5M637.8,403V425.8M645.8,385.8V425M653.8,397V437M661.7,396.2V438.8M669.7,406.5V520.8M677.7,483V527.5M685.6,500V587.5M693.6,546.2V575.8M701.6,549.2V578.8M709.5,545V600.8M717.5,552V603.2M725.5,496.2V614.5M733.4,512V563M741.4,521.2V552.5M749.4,525V546.8M757.4,510.8V559.2M765.3,546.2V601.8M773.3,549.5V590M781.3,527V575M789.2,526.2V558M797.2,469.2V553M805.2,459.2V560.8M813.1,514.2V556.8M821.1,546.2V605.8M829.1,563.2V583M837.1,537V612.5M845,575.8V623.8M853,595V650.8M861,593V613.8M868.9,589.2V612M876.9,573.2V614.5M884.9,584.2V601.2M892.9,580V616.8M900.8,584.2V624.5M908.8,586.2V607.5M916.8,585V600.8M924.7,586.2V606.2M932.7,587V610.8M940.7,556.2V595M948.6,567.8V621.8M956.6,593V633.8M964.6,579.2V607.5M972.5,580V595.5M980.5,523.8V588.8M988.5,519.2V553.8M996.5,526.2V548.8M1004.4,532.5V572.5M1012.4,543.8V577.5M1020.4,530V571.8M1028.3,530.8V548.8M1036.3,528V547M1044.3,542V623M1052.2,538V607M1060.2,539.2V590.8M1068.2,563.8V585.8M1076.2,566.8V585.8M1084.1,575V665.8M1092.1,622V648.8M1100.1,635V662.5M1108,629.2V660.8M1116,641.8V730.8M1124,693.8V738M1132,658V718M1139.9,626.2V667.5M1147.9,643.8V668M1155.9,641.2V678M1163.8,608V668M1171.8,536.8V613.8M1179.8,515V558.8M1187.7,513V563M1195.7,533.2V560M1203.7,517V556.2M1211.6,530.8V580M1219.6,528.8V567.5M1227.6,543.2V594.2M1235.6,551.2V586.8M1243.5,507V588.8M1251.5,508V530.8M1259.5,498V546.8M1267.4,487V514.2M1275.4,494.2V516.2M1283.4,508.8V540.8M1291.3,498V573.8M1299.3,551.8V585.8M1307.3,556.2V574.5M1315.3,551.2V566.2M1323.2,533V571.2M1331.2,543.2V562.5M1339.2,536.2V560.5M1347.1,463.8V562M1355.1,453.8V537.5M1363.1,505.8V518.8M1371,508V528M1379,513.2V553.2M1387,525.8V552.5M1395,523V549.2M1402.9,518.2V551.8M1410.9,533.8V547M1418.9,539.2V568.8M1426.8,533.8V564.2M1434.8,542.5V583M1442.8,560V574.2M1450.8,546.2V571.8M1458.7,546.2V568M1466.7,548.2V567M1474.7,546.2V557M1482.6,547V571.8M1490.6,553.8V570.8M1498.6,555V597M1506.5,551.8V592M1514.5,566.2V586.2M1522.5,571.8V597M1530.5,580V588.8M1538.4,580V588.8M1546.4,575V605.8M1554.4,554.2V588.8M1562.3,557V573.8M1570.3,561.2V575M1578.3,567.5V580M1586.2,568.8V574.2M1594.2,564.5V582M1602.2,567.5V581.2M1610.1,573.8V597.5M1618.1,585V608.8M1626.1,600V802M1634.1,678.8V722.5M1642,681.2V712.5M1650,683V703.8M1658,687.5V715M1665.9,700V770M1673.9,677V732M1681.9,691.2V726.2M1689.8,697V727.5M1697.8,712.5V720.5M1705.8,709.2V720M1713.8,707V736.8M1721.7,645V725M1729.7,655V680.5M1737.7,658.8V730.5M1745.6,713.2V753.2M1753.6,720V734.5M1761.6,718.8V733M1769.5,721.2V742M1777.5,718.8V747.5M1785.5,702V747.5M1793.5,710V736.8M1801.4,710V741.2M1809.4,725V731.8M1817.4,726.2V757.5M1825.3,737.5V810.8M1833.3,738V795.5M1841.3,742V770.5M1849.2,720V750.8M1857.2,712.5V746.2M1865.2,713.8V730.5M1873.2,725V745M1881.1,701.2V750M1889.1,708V732.5M1897.1,717V750.5M1905,735V780M1913,754.2V772.5M1921,757.5V765M1929,755V777.5M1936.9,757V784.5M1944.9,757.5V770M1952.9,730V766.8M1960.8,703V758M1968.8,686.5V716.8" stroke="#6c7078" stroke-width="1.8" fill="none"/><path d="M29.1,719.7h6v58.1h-6zM45,767.2h6v15.6h-6zM53,721.7h6v46.1h-6zM61,721h6v2.3h-6zM68.9,704.7h6v16.8h-6zM76.9,703h6v4.1h-6zM100.8,699.7h6v44.8h-6zM132.7,805.2h6v21.3h-6zM156.6,790.2h6v42.6h-6zM164.6,697.2h6v93.6h-6zM180.5,682.2h6v43.6h-6zM204.4,675.2h6v18.3h-6zM228.3,716h6v6.1h-6zM252.2,721.7h6v39.1h-6zM276.2,704h6v47.6h-6zM316,783.5h6v2.3h-6zM355.9,851h6v45.6h-6zM363.8,762.2h6v90.6h-6zM371.8,693h6v69.1h-6zM379.8,674.7h6v18.8h-6zM395.7,696h6v15.6h-6zM403.7,609.7h6v86.3h-6zM419.6,616h6v15.6h-6zM435.6,601h6v49.8h-6zM451.5,594h6v55.8h-6zM475.4,622.7h6v23.8h-6zM491.3,624.7h6v41.8h-6zM499.3,611h6v13.8h-6zM507.3,609.7h6v2.3h-6zM515.3,590.2h6v19.3h-6zM539.2,598h6v11.6h-6zM547.1,556h6v42.6h-6zM555.1,531h6v26.8h-6zM587,564.2h6v7.3h-6zM595,530.2h6v35.6h-6zM610.9,524h6v18.3h-6zM618.9,462.9h6v61.6h-6zM626.8,408.9h6v54.6h-6zM642.8,397.9h6v17.9h-6zM658.7,406.7h6v19.1h-6zM674.7,508.9h6v5.8h-6zM690.6,555.2h6v17.6h-6zM714.5,560.2h6v16.3h-6zM722.5,559.7h6v2.3h-6zM730.4,531h6v29.8h-6zM746.4,531h6v11.8h-6zM770.3,557.2h6v27.3h-6zM778.3,534h6v23.8h-6zM794.2,473.9h6v78.3h-6zM850,600.2h6v9.3h-6zM865.9,606.5h6v2.3h-6zM873.9,594.2h6v12.3h-6zM881.9,589.2h6v5.6h-6zM905.8,597.2h6v9.3h-6zM913.8,592.2h6v5.6h-6zM929.7,593.5h6v8.8h-6zM937.7,568h6v26.1h-6zM953.6,602.2h6v4.3h-6zM961.6,586h6v16.3h-6zM969.5,584.2h6v2.3h-6zM977.5,531h6v53.1h-6zM993.5,536h6v6.8h-6zM1017.4,532.2h6v31.8h-6zM1049.2,548h6v51.1h-6zM1065.2,574h6v10.1h-6zM1089.1,639h6v2.3h-6zM1121,704.7h6v12.3h-6zM1129,666h6v38.8h-6zM1136.9,658.5h6v8.1h-6zM1152.9,651.5h6v12.1h-6zM1160.8,611h6v40.6h-6zM1168.8,544h6v68.1h-6zM1184.7,541h6v15.6h-6zM1200.7,536.7h6v16.8h-6zM1216.6,544h6v21.3h-6zM1232.6,570.2h6v16.3h-6zM1240.5,514.7h6v56.1h-6zM1256.5,512.2h6v9.3h-6zM1264.4,499.7h6v13.1h-6zM1296.3,556.7h6v17.8h-6zM1320.2,549.7h6v13.1h-6zM1344.1,468.9h6v87.6h-6zM1399.9,542.7h6v2.6h-6zM1407.9,542.5h6v2.3h-6zM1423.8,544h6v16.3h-6zM1439.8,566.7h6v5.3h-6zM1447.8,556h6v10.6h-6zM1463.7,555.2h6v9.6h-6zM1471.7,550.5h6v5.3h-6zM1495.6,556h6v11.8h-6zM1527.5,581.5h6v6.3h-6zM1551.4,567.2h6v20.6h-6zM1583.2,572h6v2.3h-6zM1599.2,575.2h6v3.3h-6zM1639,701.7h6v6.1h-6zM1647,689.2h6v12.3h-6zM1670.9,694h6v35.1h-6zM1702.8,710.2h6v9.3h-6zM1718.7,657.2h6v58.1h-6zM1750.6,726h6v7.6h-6zM1774.5,729.7h6v3.1h-6zM1790.5,718h6v12.3h-6zM1830.3,761h6v33.8h-6zM1838.3,749.2h6v12.3h-6zM1846.2,734h6v15.8h-6zM1854.2,723.5h6v11.1h-6zM1878.1,726h6v11.3h-6zM1886.1,721.5h6v5.6h-6zM1910,761.5h6v7.1h-6zM1918,760.2h6v2.3h-6zM1933.9,765.5h6v5.3h-6zM1941.9,761.7h6v3.6h-6zM1949.9,757.7h6v4.3h-6zM1957.8,714.2h6v43.1h-6zM1965.8,692.5h6v21.1h-6z" fill="#15482c"/><path d="M30.8,721.4h2.5v54.7h-2.5zM46.8,768.9h2.5v12.2h-2.5zM54.8,723.4h2.5v42.7h-2.5zM70.7,706.4h2.5v13.4h-2.5zM102.6,701.4h2.5v41.4h-2.5zM134.4,806.9h2.5v17.9h-2.5zM158.4,791.9h2.5v39.2h-2.5zM166.3,698.9h2.5v90.2h-2.5zM182.3,683.9h2.5v40.2h-2.5zM206.2,676.9h2.5v14.9h-2.5zM230.1,717.7h2.5v2.7h-2.5zM254,723.4h2.5v35.7h-2.5zM277.9,705.7h2.5v44.2h-2.5zM357.6,852.7h2.5v42.2h-2.5zM365.6,763.9h2.5v87.2h-2.5zM373.6,694.7h2.5v65.7h-2.5zM381.5,676.4h2.5v15.4h-2.5zM397.5,697.7h2.5v12.2h-2.5zM405.4,611.4h2.5v82.9h-2.5zM421.4,617.7h2.5v12.2h-2.5zM437.3,602.7h2.5v46.4h-2.5zM453.2,595.7h2.5v52.4h-2.5zM477.2,624.4h2.5v20.4h-2.5zM493.1,626.4h2.5v38.4h-2.5zM501.1,612.7h2.5v10.4h-2.5zM517,591.9h2.5v15.9h-2.5zM540.9,599.7h2.5v8.2h-2.5zM548.9,557.7h2.5v39.2h-2.5zM556.9,532.7h2.5v23.4h-2.5zM588.7,565.9h2.5v3.9h-2.5zM596.7,531.9h2.5v32.2h-2.5zM612.6,525.7h2.5v14.9h-2.5zM620.6,464.6h2.5v58.2h-2.5zM628.6,410.6h2.5v51.2h-2.5zM644.5,399.6h2.5v14.5h-2.5zM660.5,408.4h2.5v15.7h-2.5zM676.4,510.6h2.5v2.4h-2.5zM692.4,556.9h2.5v14.2h-2.5zM716.3,561.9h2.5v12.9h-2.5zM732.2,532.7h2.5v26.4h-2.5zM748.1,532.7h2.5v8.4h-2.5zM772,558.9h2.5v23.9h-2.5zM780,535.7h2.5v20.4h-2.5zM796,475.6h2.5v74.9h-2.5zM851.8,601.9h2.5v5.9h-2.5zM875.7,595.9h2.5v8.9h-2.5zM883.6,590.9h2.5v2.2h-2.5zM907.5,598.9h2.5v5.9h-2.5zM915.5,593.9h2.5v2.2h-2.5zM931.4,595.2h2.5v5.4h-2.5zM939.4,569.7h2.5v22.7h-2.5zM963.3,587.7h2.5v12.9h-2.5zM979.3,532.7h2.5v49.7h-2.5zM995.2,537.7h2.5v3.4h-2.5zM1019.1,533.9h2.5v28.4h-2.5zM1051,549.7h2.5v47.7h-2.5zM1066.9,575.7h2.5v6.7h-2.5zM1122.7,706.4h2.5v8.9h-2.5zM1130.7,667.7h2.5v35.4h-2.5zM1138.7,660.2h2.5v4.7h-2.5zM1154.6,653.2h2.5v8.7h-2.5zM1162.6,612.7h2.5v37.2h-2.5zM1170.5,545.7h2.5v64.7h-2.5zM1186.5,542.7h2.5v12.2h-2.5zM1202.4,538.4h2.5v13.4h-2.5zM1218.4,545.7h2.5v17.9h-2.5zM1234.3,571.9h2.5v12.9h-2.5zM1242.3,516.4h2.5v52.7h-2.5zM1258.2,513.9h2.5v5.9h-2.5zM1266.2,501.4h2.5v9.7h-2.5zM1298.1,558.4h2.5v14.4h-2.5zM1322,551.4h2.5v9.7h-2.5zM1345.9,470.6h2.5v84.2h-2.5zM1425.6,545.7h2.5v12.9h-2.5zM1441.5,568.4h2.5v1.9h-2.5zM1449.5,557.7h2.5v7.2h-2.5zM1465.4,556.9h2.5v6.2h-2.5zM1473.4,552.2h2.5v1.9h-2.5zM1497.3,557.7h2.5v8.4h-2.5zM1529.2,583.2h2.5v2.9h-2.5zM1553.1,568.9h2.5v17.2h-2.5zM1640.8,703.4h2.5v2.7h-2.5zM1648.8,690.9h2.5v8.9h-2.5zM1672.7,695.7h2.5v31.7h-2.5zM1704.5,711.9h2.5v5.9h-2.5zM1720.5,658.9h2.5v54.7h-2.5zM1752.4,727.7h2.5v4.2h-2.5zM1792.2,719.7h2.5v8.9h-2.5zM1832.1,762.7h2.5v30.4h-2.5zM1840,750.9h2.5v8.9h-2.5zM1848,735.7h2.5v12.4h-2.5zM1856,725.2h2.5v7.7h-2.5zM1879.9,727.7h2.5v7.9h-2.5zM1887.8,723.2h2.5v2.2h-2.5zM1911.8,763.2h2.5v3.7h-2.5zM1935.7,767.2h2.5v1.9h-2.5zM1959.6,715.9h2.5v39.7h-2.5zM1967.5,694.2h2.5v17.7h-2.5z" fill="#72ad8a"/><path d="M21.1,757.2h6v20.6h-6zM37.1,719.7h6v63.1h-6zM84.9,704h6v28.8h-6zM92.8,732.2h6v12.3h-6zM108.8,699.7h6v16.8h-6zM116.8,716h6v83.8h-6zM124.7,799.2h6v26.6h-6zM140.7,805.2h6v19.6h-6zM148.6,824.2h6v8.6h-6zM172.6,697.2h6v28.6h-6zM188.5,683.5h6v2.3h-6zM196.5,684.2h6v7.8h-6zM212.4,676h6v33.6h-6zM220.4,709h6v12.6h-6zM236.3,714.7h6v35.1h-6zM244.3,749.2h6v10.6h-6zM260.2,723h6v5.6h-6zM268.2,729h6v22.6h-6zM284.1,705.2h6v13.3h-6zM292.1,717.2h6v62.3h-6zM300.1,779.7h6v3.1h-6zM308,782.2h6v2.6h-6zM324,782.7h6v3.8h-6zM331.9,786h6v24.8h-6zM339.9,811h6v80.6h-6zM347.9,891.7h6v4.8h-6zM387.7,675.2h6v36.3h-6zM411.6,609.7h6v21.8h-6zM427.6,615.2h6v35.6h-6zM443.5,601h6v49.8h-6zM459.5,594h6v46.3h-6zM467.4,640.5h6v6.1h-6zM483.4,622.7h6v43.8h-6zM523.2,589.7h6v2.3h-6zM531.2,591h6v18.6h-6zM563.1,531h6v24.8h-6zM571,555.2h6v6.3h-6zM579,561h6v10.6h-6zM602.9,530.2h6v13.3h-6zM634.8,408.9h6v6.9h-6zM650.8,397.9h6v27.9h-6zM666.7,406.7h6v108.1h-6zM682.6,508.9h6v63.8h-6zM698.6,555.2h6v8.3h-6zM706.5,563h6v14.3h-6zM738.4,531h6v11.8h-6zM754.4,531h6v27.6h-6zM762.3,557.2h6v27.3h-6zM786.2,533h6v19.3h-6zM802.2,473.9h6v63.8h-6zM810.1,537.2h6v18.6h-6zM818.1,555.2h6v17.6h-6zM826.1,572.2h6v2.3h-6zM834.1,572.2h6v4.3h-6zM842,576h6v33.6h-6zM858,600.2h6v8.3h-6zM889.9,589h6v2.3h-6zM897.8,590.2h6v15.1h-6zM921.7,592.2h6v10.1h-6zM945.6,568h6v38.6h-6zM985.5,529.7h6v13.1h-6zM1001.4,536.7h6v18.6h-6zM1009.4,554.2h6v9.8h-6zM1025.3,532.2h6v10.6h-6zM1033.3,543h6v2.3h-6zM1041.3,544h6v55.1h-6zM1057.2,548h6v35.6h-6zM1073.2,574.2h6v4.6h-6zM1081.1,577.7h6v63.1h-6zM1097.1,639h6v8.8h-6zM1105,647.2h6v2.3h-6zM1113,649h6v66.8h-6zM1144.9,658.5h6v5.6h-6zM1176.8,544h6v12.6h-6zM1192.7,541h6v12.6h-6zM1208.6,536.7h6v28.6h-6zM1224.6,544h6v42.6h-6zM1248.5,514.7h6v6.8h-6zM1272.4,500.9h6v13.1h-6zM1280.4,513h6v17.3h-6zM1288.3,530.2h6v43.1h-6zM1304.3,557.2h6v3.1h-6zM1312.3,560.2h6v2.6h-6zM1328.2,549.7h6v2.6h-6zM1336.2,552.2h6v4.3h-6zM1352.1,468.9h6v43.3h-6zM1360.1,512.2h6v4.3h-6zM1368,516h6v6.8h-6zM1376,522.2h6v8.1h-6zM1384,530.5h6v9.1h-6zM1392,539.2h6v6.1h-6zM1415.9,543h6v17.3h-6zM1431.8,544.7h6v26.8h-6zM1455.7,556h6v8.8h-6zM1479.6,550.5h6v13.1h-6zM1487.6,563h6v4.8h-6zM1503.5,555.2h6v23.8h-6zM1511.5,579h6v3.3h-6zM1519.5,582.2h6v5.1h-6zM1535.4,581.5h6v5.1h-6zM1543.4,585.7h6v2.3h-6zM1559.3,567.2h6v2.3h-6zM1567.3,568h6v4.1h-6zM1575.3,571h6v2.6h-6zM1591.2,572.2h6v6.3h-6zM1607.1,575.2h6v12.1h-6zM1615.1,587.2h6v15.1h-6zM1623.1,602.2h6v89.3h-6zM1631.1,691.7h6v16.8h-6zM1655,689.2h6v14.1h-6zM1662.9,702.7h6v26.8h-6zM1678.9,694.2h6v14.1h-6zM1686.8,708h6v6.6h-6zM1694.8,714.2h6v5.6h-6zM1710.8,710.2h6v4.3h-6zM1726.7,657.2h6v17.3h-6zM1734.7,674h6v46.3h-6zM1742.6,719.7h6v13.8h-6zM1758.6,726h6v2.3h-6zM1766.5,727.2h6v5.6h-6zM1782.5,729.2h6v2.3h-6zM1798.4,718h6v9.3h-6zM1806.4,726.5h6v2.3h-6zM1814.4,727.2h6v15.1h-6zM1822.3,742.2h6v52.6h-6zM1862.2,722.2h6v6.8h-6zM1870.2,728.5h6v8.8h-6zM1894.1,721.5h6v16.8h-6zM1902,738h6v30.3h-6zM1926,760.2h6v10.1h-6z" fill="#520d09"/><path d="M22.9,758.9h2.5v17.2h-2.5zM38.8,721.4h2.5v59.7h-2.5zM86.6,705.7h2.5v25.4h-2.5zM94.6,733.9h2.5v8.9h-2.5zM110.5,701.4h2.5v13.4h-2.5zM118.5,717.7h2.5v80.4h-2.5zM126.5,800.9h2.5v23.2h-2.5zM142.4,806.9h2.5v16.2h-2.5zM150.4,825.9h2.5v5.2h-2.5zM174.3,698.9h2.5v25.2h-2.5zM198.2,685.9h2.5v4.4h-2.5zM214.2,677.7h2.5v30.2h-2.5zM222.1,710.7h2.5v9.2h-2.5zM238.1,716.4h2.5v31.7h-2.5zM246,750.9h2.5v7.2h-2.5zM262,724.7h2.5v2.2h-2.5zM269.9,730.7h2.5v19.2h-2.5zM285.9,706.9h2.5v9.9h-2.5zM293.9,718.9h2.5v58.9h-2.5zM333.7,787.7h2.5v21.4h-2.5zM341.7,812.7h2.5v77.2h-2.5zM349.6,893.4h2.5v1.4h-2.5zM389.5,676.9h2.5v32.9h-2.5zM413.4,611.4h2.5v18.4h-2.5zM429.3,616.9h2.5v32.2h-2.5zM445.3,602.7h2.5v46.4h-2.5zM461.2,595.7h2.5v42.9h-2.5zM469.2,642.2h2.5v2.7h-2.5zM485.1,624.4h2.5v40.4h-2.5zM533,592.7h2.5v15.2h-2.5zM564.8,532.7h2.5v21.4h-2.5zM572.8,556.9h2.5v2.9h-2.5zM580.8,562.7h2.5v7.2h-2.5zM604.7,531.9h2.5v9.9h-2.5zM636.6,410.6h2.5v3.5h-2.5zM652.5,399.6h2.5v24.5h-2.5zM668.4,408.4h2.5v104.7h-2.5zM684.4,510.6h2.5v60.4h-2.5zM700.3,556.9h2.5v4.9h-2.5zM708.3,564.7h2.5v10.9h-2.5zM740.2,532.7h2.5v8.4h-2.5zM756.1,532.7h2.5v24.2h-2.5zM764.1,558.9h2.5v23.9h-2.5zM788,534.7h2.5v15.9h-2.5zM803.9,475.6h2.5v60.4h-2.5zM811.9,538.9h2.5v15.2h-2.5zM819.9,556.9h2.5v14.2h-2.5zM843.8,577.7h2.5v30.2h-2.5zM859.7,601.9h2.5v4.9h-2.5zM899.6,591.9h2.5v11.7h-2.5zM923.5,593.9h2.5v6.7h-2.5zM947.4,569.7h2.5v35.2h-2.5zM987.2,531.4h2.5v9.7h-2.5zM1003.2,538.4h2.5v15.2h-2.5zM1011.1,555.9h2.5v6.4h-2.5zM1027.1,533.9h2.5v7.2h-2.5zM1043,545.7h2.5v51.7h-2.5zM1059,549.7h2.5v32.2h-2.5zM1082.9,579.4h2.5v59.7h-2.5zM1098.8,640.7h2.5v5.4h-2.5zM1114.8,650.7h2.5v63.4h-2.5zM1146.6,660.2h2.5v2.2h-2.5zM1178.5,545.7h2.5v9.2h-2.5zM1194.5,542.7h2.5v9.2h-2.5zM1210.4,538.4h2.5v25.2h-2.5zM1226.3,545.7h2.5v39.2h-2.5zM1250.2,516.4h2.5v3.4h-2.5zM1274.2,502.6h2.5v9.7h-2.5zM1282.1,514.7h2.5v13.9h-2.5zM1290.1,531.9h2.5v39.7h-2.5zM1353.9,470.6h2.5v39.9h-2.5zM1369.8,517.7h2.5v3.4h-2.5zM1377.8,523.9h2.5v4.7h-2.5zM1385.7,532.2h2.5v5.7h-2.5zM1393.7,540.9h2.5v2.7h-2.5zM1417.6,544.7h2.5v13.9h-2.5zM1433.6,546.4h2.5v23.4h-2.5zM1457.5,557.7h2.5v5.4h-2.5zM1481.4,552.2h2.5v9.7h-2.5zM1489.3,564.7h2.5v1.4h-2.5zM1505.3,556.9h2.5v20.4h-2.5zM1521.2,583.9h2.5v1.7h-2.5zM1537.2,583.2h2.5v1.7h-2.5zM1593,573.9h2.5v2.9h-2.5zM1608.9,576.9h2.5v8.7h-2.5zM1616.9,588.9h2.5v11.7h-2.5zM1624.8,603.9h2.5v85.9h-2.5zM1632.8,693.4h2.5v13.4h-2.5zM1656.7,690.9h2.5v10.7h-2.5zM1664.7,704.4h2.5v23.4h-2.5zM1680.6,695.9h2.5v10.7h-2.5zM1688.6,709.7h2.5v3.2h-2.5zM1696.6,715.9h2.5v2.2h-2.5zM1728.5,658.9h2.5v13.9h-2.5zM1736.4,675.7h2.5v42.9h-2.5zM1744.4,721.4h2.5v10.4h-2.5zM1768.3,728.9h2.5v2.2h-2.5zM1800.2,719.7h2.5v5.9h-2.5zM1816.1,728.9h2.5v11.7h-2.5zM1824.1,743.9h2.5v49.2h-2.5zM1863.9,723.9h2.5v3.4h-2.5zM1871.9,730.2h2.5v5.4h-2.5zM1895.8,723.2h2.5v13.4h-2.5zM1903.8,739.7h2.5v26.9h-2.5zM1927.7,761.9h2.5v6.7h-2.5z" fill="#e25946"/><path d="M20,693H2447" stroke="#5f9f7e" stroke-width="2" stroke-dasharray="2 4.3" fill="none"/></g><text x="2014.5" y="610.8" font-size="27" fill="#000" textLength="279.5" lengthAdjust="spacingAndGlyphs" font-weight="bold">Falling wedge target</text><text x="1990.3" y="716.4" font-size="27" fill="#000" textLength="425" lengthAdjust="spacingAndGlyphs" font-weight="bold">Falling wedge breakout=height</text><text x="1320" y="682.6" font-size="27" fill="#000" textLength="283.5" lengthAdjust="spacingAndGlyphs" font-weight="bold">Falling wedge height</text><text x="2053.4" y="849" font-size="27" fill="#000" textLength="188" lengthAdjust="spacingAndGlyphs" font-weight="bold">Falling wedge</text><rect x="20" y="241.5" width="2670" height="2.3" fill="#1b1e28"/><rect x="2558.2" y="54" width="1.6" height="1317.5" fill="#45464c"/><rect x="20" y="1316" width="2670" height="2" fill="#45464c"/><rect x="20" y="54" width="1" height="1317.5" fill="#8d8684"/><text x="2573.4" y="116.8" font-size="22.4" fill="#505053" textLength="62.5" lengthAdjust="spacing">60.00</text><text x="2573.4" y="177.5" font-size="22.4" fill="#505053" textLength="62.5" lengthAdjust="spacing">40.00</text><text x="2573.4" y="238.5" font-size="22.4" fill="#505053" textLength="62.5" lengthAdjust="spacing">20.00</text><text x="2574.5" y="359.1" font-size="22.4" fill="#505053" textLength="74.4" lengthAdjust="spacing">2200.0</text><text x="2574.5" y="418.1" font-size="22.4" fill="#505053" textLength="74.4" lengthAdjust="spacing">2100.0</text><text x="2574.5" y="480.1" font-size="22.4" fill="#505053" textLength="74.4" lengthAdjust="spacing">2000.0</text><text x="2574.5" y="544.9" font-size="22.4" fill="#505053" textLength="74.4" lengthAdjust="spacing">1900.0</text><text x="2574.5" y="613.7" font-size="22.4" fill="#505053" textLength="74.4" lengthAdjust="spacing">1800.0</text><text x="2574.5" y="686.1" font-size="22.4" fill="#505053" textLength="74.4" lengthAdjust="spacing">1700.0</text><text x="2574.5" y="746.9" font-size="22.4" fill="#505053" textLength="74.4" lengthAdjust="spacing">1620.0</text><text x="2574.5" y="811.9" font-size="22.4" fill="#505053" textLength="74.4" lengthAdjust="spacing">1540.0</text><text x="2574.5" y="878.9" font-size="22.4" fill="#505053" textLength="74.4" lengthAdjust="spacing">1460.0</text><text x="2574.5" y="946.1" font-size="22.4" fill="#505053" textLength="74.4" lengthAdjust="spacing">1385.0</text><text x="2574.5" y="1002.1" font-size="22.4" fill="#505053" textLength="74.4" lengthAdjust="spacing">1325.0</text><text x="2574.5" y="1061.1" font-size="22.4" fill="#505053" textLength="74.4" lengthAdjust="spacing">1265.0</text><text x="2574.5" y="1123.1" font-size="22.4" fill="#505053" textLength="74.4" lengthAdjust="spacing">1205.0</text><text x="2574.5" y="1188.1" font-size="22.4" fill="#505053" textLength="74.4" lengthAdjust="spacing">1145.0</text><text x="2574.5" y="1244.1" font-size="22.4" fill="#505053" textLength="74.4" lengthAdjust="spacing">1095.0</text><text x="2574.5" y="1300.7" font-size="22.4" fill="#505053" textLength="74.4" lengthAdjust="spacing">1047.0</text><rect x="2566.3" y="252.3" width="115.6" height="51.6" rx="7" fill="#fff" stroke="#ebe6e8" stroke-width="1"/><text x="2584" y="284.5" font-size="22.4" fill="#131722" textLength="46.5" lengthAdjust="spacing">USD</text><path d="M2558,616.2H2656a4,4 0 0 1 4,4V644a4,4 0 0 1 -4,4H2558z" fill="#000"/><text x="2574.9" y="639.9" font-size="22.4" fill="#fff" textLength="75.2" lengthAdjust="spacing">1763.2</text><path d="M2558,677H2676a4,4 0 0 1 4,4V730.6a4,4 0 0 1 -4,4H2558z" fill="#6ba583"/><path d="M2556,677H2451a4,4 0 0 0 -4,4V704.8a4,4 0 0 0 4,4H2556z" fill="#6ba583"/><text x="2574.9" y="700.9" font-size="22.4" fill="#fff" textLength="75.2" lengthAdjust="spacing">1680.3</text><text x="2573.2" y="727.1" font-size="22.4" fill="#fff" textLength="97.5" lengthAdjust="spacing" fill-opacity="0.8">09:11:45</text><text x="2456.6" y="700.9" font-size="22.4" fill="#fff" textLength="90.5" lengthAdjust="spacing">ETHUSD</text><text x="56" y="1352" font-size="22.5" fill="#4b4b4e" font-weight="bold" text-anchor="middle">Feb</text><text x="279.2" y="1352" font-size="22.5" fill="#4b4b4e" font-weight="bold" text-anchor="middle">Mar</text><text x="526.2" y="1352" font-size="22.5" fill="#4b4b4e" font-weight="bold" text-anchor="middle">Apr</text><text x="765.3" y="1352" font-size="22.5" fill="#4b4b4e" font-weight="bold" text-anchor="middle">May</text><text x="1012.4" y="1352" font-size="22.5" fill="#4b4b4e" font-weight="bold" text-anchor="middle">Jun</text><text x="1251.5" y="1352" font-size="22.5" fill="#4b4b4e" font-weight="bold" text-anchor="middle">Jul</text><text x="1498.6" y="1352" font-size="22.5" fill="#4b4b4e" font-weight="bold" text-anchor="middle">Aug</text><text x="1745.6" y="1352" font-size="22.5" fill="#4b4b4e" font-weight="bold" text-anchor="middle">Sep</text><text x="1984.7" y="1352" font-size="22.5" fill="#4b4b4e" font-weight="bold" text-anchor="middle">Oct</text><text x="2231.8" y="1352" font-size="22.5" fill="#4b4b4e" font-weight="bold" text-anchor="middle">Nov</text><text x="2470.9" y="1352" font-size="22.5" fill="#4b4b4e" font-weight="bold" text-anchor="middle">Dec</text><text x="36.6" y="93.8" font-size="23" fill="#4e4e50" textLength="294" lengthAdjust="spacingAndGlyphs" stroke="#4e4e50" stroke-width="0.45">RSI (14, close, SMA, 14, 2)</text><text x="345" y="93.8" font-size="23" fill="#7e57c2" textLength="64.5" lengthAdjust="spacingAndGlyphs" stroke="#7e57c2" stroke-width="0.45">60.27</text><text x="424" y="93.8" font-size="23" fill="#fdea3b" textLength="63.5" lengthAdjust="spacingAndGlyphs" stroke="#fdea3b" stroke-width="0.45">44.78</text><text x="503.5" y="93.6" font-size="20" fill="#4e4e50" stroke="#4e4e50" stroke-width="0.45" font-family="DejaVu Sans,sans-serif">∅</text><text x="533.5" y="93.6" font-size="20" fill="#4e4e50" stroke="#4e4e50" stroke-width="0.45" font-family="DejaVu Sans,sans-serif">∅</text><text x="36.6" y="284" font-size="23" fill="#4e4e50" textLength="419.5" lengthAdjust="spacingAndGlyphs" stroke="#4e4e50" stroke-width="0.45">Ethereum / U.S. Dollar, 1D, BITSTAMP</text><text x="470.3" y="284" font-size="23" textLength="94.5" lengthAdjust="spacingAndGlyphs"><tspan fill="#4e4e50" stroke="#4e4e50" stroke-width="0.45">O</tspan><tspan fill="#1d5a3a" stroke="#1d5a3a" stroke-width="0.45">1653.2</tspan></text><text x="578.4" y="284" font-size="23" textLength="95.5" lengthAdjust="spacingAndGlyphs"><tspan fill="#4e4e50" stroke="#4e4e50" stroke-width="0.45">H</tspan><tspan fill="#1d5a3a" stroke="#1d5a3a" stroke-width="0.45">1688.4</tspan></text><text x="687" y="284" font-size="23" textLength="91.5" lengthAdjust="spacingAndGlyphs"><tspan fill="#4e4e50" stroke="#4e4e50" stroke-width="0.45">L</tspan><tspan fill="#1d5a3a" stroke="#1d5a3a" stroke-width="0.45">1648.7</tspan></text><text x="791" y="284" font-size="23" textLength="95" lengthAdjust="spacingAndGlyphs"><tspan fill="#4e4e50" stroke="#4e4e50" stroke-width="0.45">C</tspan><tspan fill="#1d5a3a" stroke="#1d5a3a" stroke-width="0.45">1680.3</tspan></text><text x="899.5" y="284" font-size="23" fill="#1d5a3a" textLength="170" lengthAdjust="spacingAndGlyphs" stroke="#1d5a3a" stroke-width="0.45">+27.2 (+1.65%)</text><text x="36.6" y="317.7" font-size="23" fill="#4e4e50" textLength="221" lengthAdjust="spacingAndGlyphs" stroke="#4e4e50" stroke-width="0.45">EMA (200, close, 0)</text><text x="272.6" y="317.7" font-size="23" fill="#2196f3" textLength="75.5" lengthAdjust="spacingAndGlyphs" stroke="#2196f3" stroke-width="0.45">1734.9</text><text x="36.6" y="351.2" font-size="23" fill="#4e4e50" textLength="206" lengthAdjust="spacingAndGlyphs" stroke="#4e4e50" stroke-width="0.45">EMA (50, close, 0)</text><text x="257.6" y="351.2" font-size="23" fill="#f23645" textLength="78" lengthAdjust="spacingAndGlyphs" stroke="#f23645" stroke-width="0.45">1666.6</text><text x="36.6" y="385.3" font-size="23" fill="#4e4e50" textLength="101.5" lengthAdjust="spacingAndGlyphs" stroke="#4e4e50" stroke-width="0.45">Vol · ETH</text><text x="153.4" y="385.3" font-size="23" fill="#26a69a" textLength="80" lengthAdjust="spacingAndGlyphs" stroke="#26a69a" stroke-width="0.45">2.692K</text><text x="20" y="39.9" font-size="24.8" fill="#d1d4dc" textLength="792" lengthAdjust="spacingAndGlyphs" stroke="#d1d4dc" stroke-width="0.45">bitcoinwallah published on TradingView.com, Sep 29, 2023 14:48 UTC</text><g transform="translate(20,1391.6) scale(1.1)" fill="#d1d4dc"><path d="M14 22H7V11H0V4h14v18zM28 22h-8l7.5-18h8L28 22z"/><circle cx="20" cy="8" r="4"/></g><text x="66.5" y="1416.4" font-size="24.4" fill="#d1d4dc" textLength="149" lengthAdjust="spacingAndGlyphs" stroke="#d1d4dc" stroke-width="0.45">TradingView</text></svg></body></html>
